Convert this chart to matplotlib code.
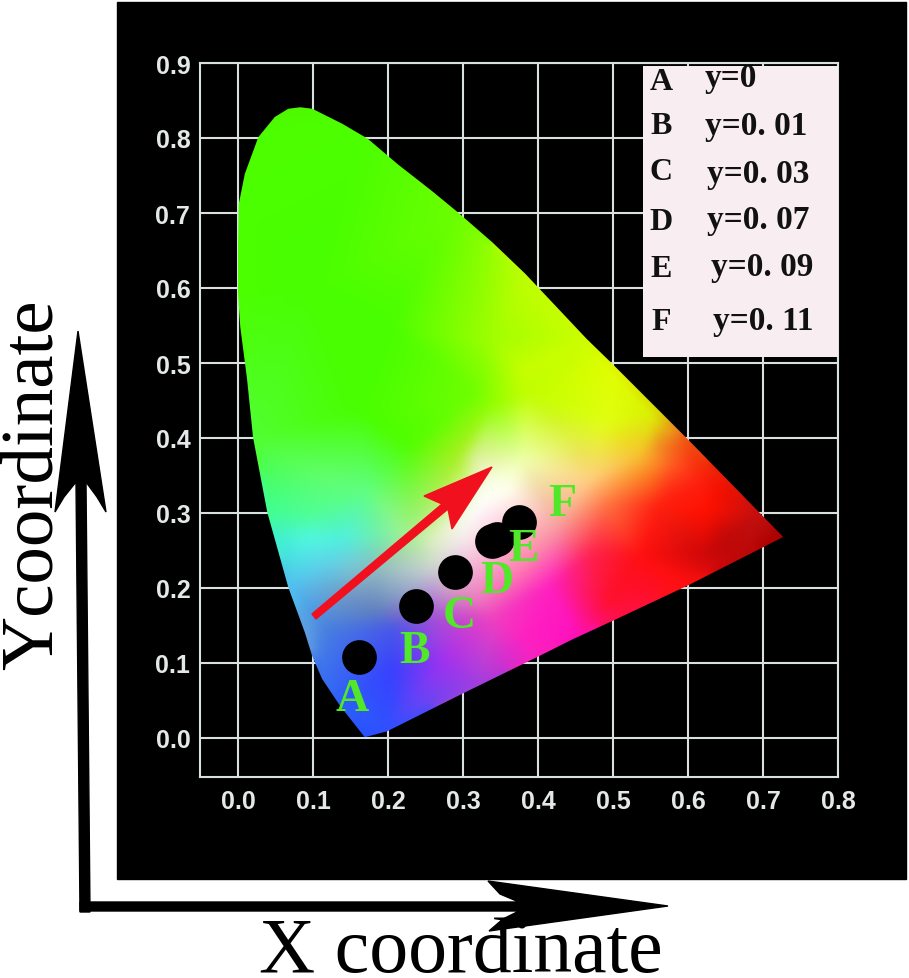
import numpy as np
import matplotlib
matplotlib.use('Agg')
import matplotlib.pyplot as plt
import matplotlib.tri as mtri
from matplotlib.patches import Polygon, Rectangle

# chromaticity outline
locus_x = [0.169, 0.136, 0.112, 0.099, 0.089, 0.067, 0.039, 0.020, 0.012, 0.003, 0.0, 0.0,
           0.001, 0.009, 0.027, 0.049, 0.067, 0.083, 0.099, 0.139, 0.173, 0.213, 0.259, 0.293,
           0.339, 0.383, 0.465, 0.499, 0.599, 0.727, 0.599, 0.499, 0.447, 0.399, 0.299, 0.199]
locus_y = [0.001, 0.043, 0.079, 0.109, 0.141, 0.201, 0.301, 0.401, 0.479, 0.548, 0.592, 0.659,
           0.712, 0.752, 0.801, 0.828, 0.839, 0.841, 0.839, 0.819, 0.799, 0.765, 0.729, 0.701,
           0.661, 0.619, 0.532, 0.499, 0.399, 0.268, 0.203, 0.156, 0.132, 0.108, 0.059, 0.009]

# colour samples on the edge and inside
col_x = [0.169, 0.136, 0.112, 0.089, 0.067, 0.049, 0.039, 0.020, -0.005, -0.005, 0.0, 0.009, 0.027, 0.049, 0.083,
         0.139, 0.173, 0.293, 0.383, 0.465, 0.499,
         0.559, 0.585, 0.599, 0.65, 0.70, 0.727, 0.66, 0.599, 0.52, 0.45, 0.399, 0.32, 0.199,
         0.1, 0.2, 0.383, 0.316, 0.336, 0.336, 0.38, 0.16, 0.227, 0.293, 0.316, 0.339, 0.116, 0.093,
         0.139, 0.093, 0.116, 0.183, 0.227, 0.259, 0.183, 0.259, 0.139, 0.183, 0.116, 0.205, 0.259,
         0.285, 0.32, 0.339, 0.272, 0.205, 0.383, 0.30, 0.32, 0.36,
         0.38, 0.447, 0.492, 0.425, 0.469, 0.536, 0.559, 0.585, 0.612, 0.492, 0.559, 0.625, 0.647,
         0.616, 0.536, 0.469, 0.416, 0.492, 0.38, 0.17]
col_y = [0.001, 0.043, 0.079, 0.141, 0.201, 0.265, 0.301, 0.401, 0.6, 0.7, 0.72, 0.76, 0.805, 0.835, 0.845,
         0.825, 0.805, 0.701, 0.619, 0.532, 0.499,
         0.435, 0.41, 0.399, 0.34, 0.30, 0.268, 0.235, 0.203, 0.166, 0.133, 0.108, 0.07, 0.009,
         0.6, 0.55, 0.459, 0.459, 0.532, 0.443, 0.488, 0.435, 0.389, 0.376, 0.372, 0.345, 0.345, 0.301,
         0.265, 0.265, 0.229, 0.269, 0.269, 0.265, 0.221, 0.229, 0.189, 0.168, 0.145, 0.145, 0.159,
         0.189, 0.189, 0.159, 0.101, 0.088, 0.132, 0.27, 0.31, 0.33,
         0.368, 0.399, 0.421, 0.283, 0.345, 0.376, 0.389, 0.363, 0.341, 0.309, 0.309, 0.301, 0.265,
         0.243, 0.243, 0.243, 0.203, 0.176, 0.229, 0.33]
col_c = ['#2850ff', '#2c60f8', '#3a70f0', '#60a0e0', '#50c0f0', '#40f0d0', '#40ff90', '#50ff30', '#4cff00', '#4cff00',
         '#4cff00', '#4cff00', '#4cff00', '#50f800', '#50f800',
         '#4cff00', '#4cff00', '#6cff00', '#c0ff00', '#ccff00', '#e0ff00',
         '#d8f000', '#f09020', '#f05010', '#f01000', '#c01010', '#a80000', '#c00808', '#ff1010', '#ff1040',
         '#ff10c0', '#ff20c0', '#a040e0', '#3050ff',
         '#48ff00', '#48ff00', '#c0ff00', '#70ff00', '#a0ff00', '#90ff00', '#c8ff00', '#48ff00', '#50ff00',
         '#a8f020', '#e0f0a0', '#f8ffe0', '#60ff70', '#50ff90',
         '#50f0e0', '#50f8e0', '#60d0e8', '#70f0b0', '#a8f090', '#e0f0c0', '#90b8c0', '#d0d8d0', '#7098c8',
         '#6080c0', '#4880e0', '#4858e8', '#a050d8',
         '#d090c0', '#f080c0', '#f040c0', '#a030f0', '#3840ff', '#ff20c0', '#f8f0f0', '#ffffff', '#fffff0',
         '#f0ffb0', '#e0f040', '#e0ff10', '#f8a0a0', '#ffd080', '#f8c030', '#f09020', '#ff5020', '#ff2010',
         '#ff7040', '#ff2010', '#ff1000', '#c00808',
         '#d00808', '#ff1010', '#ff2050', '#ff20c0', '#ff1030', '#ff80b0', '#60ff80']

# points A-F plus the legend
pt_x = [0.161, 0.237, 0.289, 0.339, 0.345, 0.375]
pt_y = [0.108, 0.176, 0.221, 0.263, 0.265, 0.288]
letters = ['A', 'B', 'C', 'D', 'E', 'F']
legend_vals = ['y=0', 'y=0. 01', 'y=0. 03', 'y=0. 07', 'y=0. 09', 'y=0. 11']

W, H = 909, 979
fig = plt.figure(figsize=(W / 100, H / 100), dpi=100, facecolor='white')


def px_axes(left, top, right, bottom):
    return [left / W, 1 - bottom / H, (right - left) / W, (bottom - top) / H]


# black panel
bg = fig.add_axes([0, 0, 1, 1], zorder=0)
bg.set_xlim(0, W)
bg.set_ylim(H, 0)
bg.axis('off')
bg.add_patch(Rectangle((117, 3), 789, 877, color='black'))

# chart
ax = fig.add_axes(px_axes(200, 64, 838, 778), zorder=1)
ax.set_facecolor('black')
ax.set_xticks(np.arange(0, 0.81, 0.1))
ax.set_yticks(np.arange(0, 0.91, 0.1))
ax.grid(color='#d8e0e0', lw=1.5)
ax.set_axisbelow(True)
ax.tick_params(length=0, labelsize=18, labelcolor='#e4e8e8')
ax.tick_params(axis='x', pad=9)
ax.tick_params(axis='y', pad=7)
ax.xaxis.set_major_formatter('{x:.1f}')
ax.yaxis.set_major_formatter('{x:.1f}')
for lab in ax.get_xticklabels() + ax.get_yticklabels():
    lab.set_family('Liberation Sans')
    lab.set_weight('bold')
for s in ax.spines.values():
    s.set_color('#d8e0e0')
    s.set_linewidth(1.5)

# colour field between the samples, clipped to the outline
gx, gy = np.meshgrid(np.linspace(-0.01, 0.74, 500), np.linspace(-0.01, 0.85, 500))
rgb = np.array([matplotlib.colors.to_rgb(c) for c in col_c])
tri = mtri.Triangulation(col_x, col_y)
field = np.zeros(gx.shape + (3,))
nearest = np.argmin((gx[..., None] - np.array(col_x)) ** 2 + (gy[..., None] - np.array(col_y)) ** 2, axis=2)
for k in range(3):
    vals = mtri.LinearTriInterpolator(tri, rgb[:, k])(gx, gy)
    field[..., k] = np.where(np.ma.getmaskarray(vals), rgb[nearest, k], vals.filled(0))

# soften the triangle facets a little
kernel = np.ones(13) / 13
for axis in (0, 1):
    field = np.apply_along_axis(lambda v: np.convolve(np.pad(v, 6, mode='edge'), kernel, mode='valid'), axis, field)

im = ax.imshow(field, origin='lower', extent=(-0.01, 0.74, -0.01, 0.85), aspect='auto', zorder=2,
               interpolation='bilinear')
ax.set_xlim(-0.0507, 0.8)
ax.set_ylim(-0.052, 0.9)
outline = Polygon(np.column_stack([locus_x, locus_y]), closed=True, transform=ax.transData,
                  fc='none', ec='none')
ax.add_patch(outline)
im.set_clip_path(outline)

ax.plot(pt_x, pt_y, 'o', color='black', ms=25, mew=0, zorder=3)

# overlay in pixels for the hand drawn parts
top = fig.add_axes([0, 0, 1, 1], zorder=2)
top.set_xlim(0, W)
top.set_ylim(H, 0)
top.axis('off')

top.add_patch(Polygon([(312, 615), (442, 505), (424, 497), (492, 468), (452, 530), (448, 510), (316, 620)],
                      closed=True, color='#f0101e'))

# legend box
top.add_patch(Rectangle((643, 67), 195, 291, fc='#f8eef2', ec='none'))
let_y = [82, 126, 173, 222, 270, 323]
val_x = [705, 705, 707, 707, 711, 713]
val_y = [78, 127, 174, 220, 268, 322]
for i in range(6):
    top.text(661, let_y[i], letters[i], family='Liberation Serif', weight='bold', fontsize=23,
             ha='center', va='center', color='#111111')
    top.text(val_x[i], val_y[i], legend_vals[i], family='Liberation Serif', weight='bold', fontsize=24,
             ha='left', va='center', color='#111111')

# green labels next to the points
lab_x = [352, 414, 459, 497, 524, 562]
lab_y = [700, 652, 617, 582, 550, 505]
for i in range(6):
    top.text(lab_x[i], lab_y[i], letters[i], family='Liberation Serif', weight='bold', fontsize=33,
             ha='center', va='center', color='#50e828')

# big black axis arrows
top.add_patch(Polygon([(80, 913), (76, 483), (64, 498), (55, 513), (78, 332), (106, 513), (97, 498),
                       (86, 483), (90, 913)], closed=True, color='black'))
top.add_patch(Polygon([(80, 903), (519, 903), (500, 895), (488, 882), (668, 907), (489, 932),
                       (503, 920), (519, 912), (80, 912)], closed=True, color='black'))

top.text(52, 485, 'Ycoordinate', family='Liberation Serif', fontsize=54, rotation=90,
         ha='center', va='baseline', rotation_mode='anchor', color='black')
top.text(461, 972, 'X coordinate', family='Liberation Serif', fontsize=56,
         ha='center', va='baseline', color='black')

fig.savefig('out.png', dpi=100, facecolor='white')
